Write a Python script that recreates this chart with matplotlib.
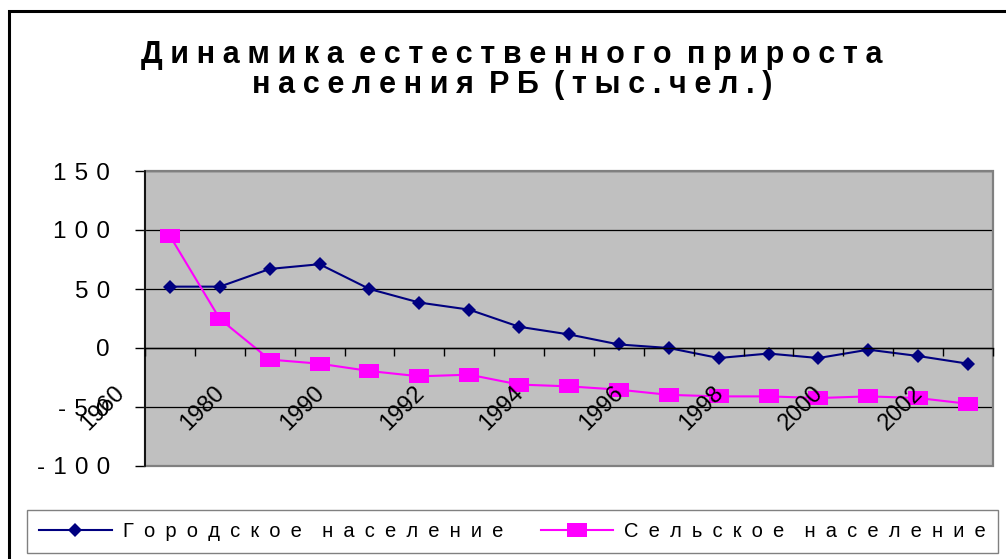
import matplotlib
matplotlib.use("Agg")
import matplotlib.pyplot as plt
from matplotlib.lines import Line2D
from matplotlib.patches import Rectangle
from matplotlib.path import Path
from matplotlib.transforms import ScaledTranslation


# ============================================================
# DATA
# ============================================================

years = ["1960", "1970", "1980", "1985", "1990", "1991", "1992", "1993", "1994",
         "1995", "1996", "1997", "1998", "1999", "2000", "2001", "2002"]

urban = [52, 52, 67, 71, 50, 38.5, 32.5, 18, 11.5, 3, 0,
         -8.5, -4.7, -8.5, -1.4, -6.8, -13.3]
rural = [95, 24.6, -9.8, -13.3, -19.5, -24, -22.6, -31, -32.5, -35.3, -39.7,
         -41, -41, -42.4, -41, -42.4, -47.3]

series_names = ["Городское население", "Сельское население"]
title = "Динамика естественного прироста\nнаселения РБ (тыс.чел.)"
yticks = [150, 100, 50, 0, -50, -100]


# ============================================================
# FONTS / HELPERS
# ============================================================

plt.rcParams["font.family"] = ["Liberation Sans", "DejaVu Sans"]


def track(s, sep="\u2004"):
    # wide letter spacing like in the original Excel chart
    lines = []
    for line in s.split("\n"):
        lines.append((sep * 2).join(sep.join(w) for w in line.split(" ")))
    return "\n".join(lines)


W, H = 1006, 559
fig = plt.figure(figsize=(W / 100, H / 100), dpi=100)
ax = fig.add_axes([145 / W, 1 - 466 / H, 848 / W, 295 / H])
ax.set_facecolor("#C0C0C0")

x = list(range(len(years)))

sq = Path([(-1, -0.7), (1, -0.7), (1, 0.7), (-1, 0.7), (-1, -0.7)],
          [Path.MOVETO, Path.LINETO, Path.LINETO, Path.LINETO, Path.CLOSEPOLY])

ax.plot(x, urban, color="#000080", lw=1.5, marker="D", markersize=7.5,
        markeredgewidth=0, label=track(series_names[0], "\u2002"), zorder=2)
ax.plot(x, rural, color="#FF00FF", lw=1.5, marker=sq, markersize=14,
        markeredgewidth=0, label=track(series_names[1], "\u2002"), zorder=2)

ax.set_xlim(-0.5, len(years) - 0.5)
ax.set_ylim(-100, 150)

# y axis
ax.set_yticks(yticks, [track(str(v)) for v in yticks])
ax.tick_params(axis="y", direction="out", length=7.2, width=1, color="black",
               pad=18, labelsize=17.5)
ax.yaxis.grid(True, color="black", lw=0.9)
ax.set_axisbelow("line")

# x axis sits on zero
ax.spines["bottom"].set_position(("data", 0))
ax.spines["bottom"].set_color("black")
ax.spines["bottom"].set_linewidth(1)
for s in ["top", "right"]:
    ax.spines[s].set_visible(False)
ax.spines["left"].set_color("black")
ax.spines["left"].set_linewidth(1.2)

ax.set_xticks(x[::2], years[::2])
ax.set_xticks([i - 0.5 for i in range(len(years) + 1)], minor=True)
ax.tick_params(axis="x", which="major", length=0, pad=0, labelsize=17)
ax.tick_params(axis="x", which="minor", direction="out", length=5.8,
               width=1, color="black")
off = ScaledTranslation(-0.67, -0.60, fig.dpi_scale_trans)
for lab in ax.get_xticklabels():
    lab.set_rotation(45)
    lab.set_rotation_mode("anchor")
    lab.set_ha("center")
    lab.set_va("center")
    lab.set_transform(lab.get_transform() + off)
ax.xaxis.set_zorder(3)

# gray frame around plot area
ax.add_patch(Rectangle((0, 0), 1, 1, transform=ax.transAxes, fill=False,
                       ec="#808080", lw=1.6, clip_on=False, zorder=2.4))

# title
fig.text(512 / W, 1 - 70 / H, track(title, "\u2005"), ha="center", va="center",
         fontsize=22, fontweight="bold", linespacing=1.0)

# legend
fig.legend(loc="upper left", bbox_to_anchor=(27 / W, 0, 971 / W, 1 - 510 / H),
           mode="expand", ncol=2, borderaxespad=0, fancybox=False,
           edgecolor="#808080", framealpha=1, fontsize=14.5,
           handlelength=3.6, handletextpad=0.55, borderpad=0.6,
           columnspacing=1.0)

# outer chart border (left and top)
fig.add_artist(Line2D([8.5 / W, 8.5 / W, 1.0], [0, 1 - 10.5 / H, 1 - 10.5 / H],
                      transform=fig.transFigure, color="black", lw=2.2,
                      solid_joinstyle="miter"))

fig.savefig("out.png", dpi=100)
